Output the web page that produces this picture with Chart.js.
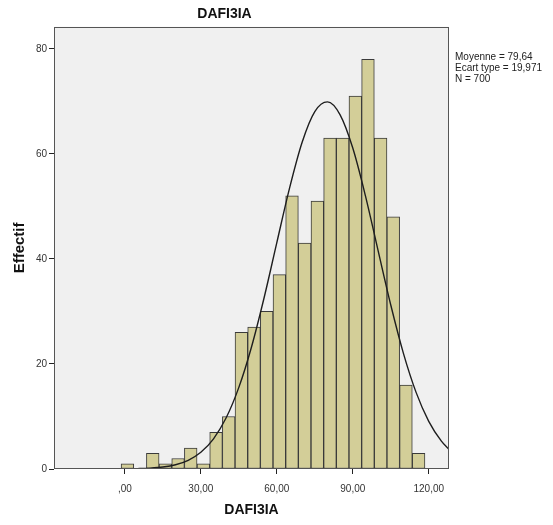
<!DOCTYPE html>
<html><head><meta charset="utf-8">
<script src="https://cdn.jsdelivr.net/npm/chart.js@4.4.1/dist/chart.umd.min.js"></script>
<style>
html,body{margin:0;padding:0;background:#fff;}
#wrap{position:relative;width:553px;height:525px;}
#stats{position:absolute;left:455px;top:51px;font:10px "Liberation Sans",Arial,sans-serif;color:#222;line-height:11px;white-space:nowrap;}
</style></head><body>
<div id="wrap"><canvas id="c" width="553" height="525"></canvas>
<div id="stats"></div></div>
<script>
// Histogram bins (bin centres, width 5) and counts
const binCenters = [1,6,11,16,21,26,31,36,41,46,51,56,61,66,71,76,81,86,91,96,101,106,111,116];
const counts     = [1,0,3,1,2,4,1,7,10,26,27,30,37,52,43,51,63,63,71,78,63,48,16,3];
// Fitted normal curve
const curveX = [-28,-25,-20,-15,-10,-5,0,5,10,15,20,25,30,35,40,45,50,55,60,65,70,75,80,85,90,95,100,105,110,115,120,125,128];
const curveY = [0,0,0,0,0,0,0.02,0.07,0.16,0.37,0.81,1.66,3.18,5.75,9.75,15.54,23.24,32.66,43.11,53.44,62.23,68.06,69.9,67.44,61.11,52.01,41.58,31.22,22.02,14.59,9.08,5.30,3.73];
// Axis ticks
const xTickValues = [0,30,60,90,120];
const xTickLabels = [',00','30,00','60,00','90,00','120,00'];
const yTickValues = [0,20,40,60,80];
// Titles / statistics
const chartTitle = 'DAFI3IA';
const xTitle = 'DAFI3IA';
const yTitle = 'Effectif';
const statsLines = ['Moyenne = 79,64','Ecart type = 19,971','N = 700'];

document.getElementById('stats').innerHTML = statsLines.map(s=>'<div>'+s+'</div>').join('');

const FONT = '"Liberation Sans", Arial, sans-serif';

const framePlugin = {
  id:'frame',
  beforeDraw(chart){
    const {ctx, chartArea:a} = chart;
    ctx.save();
    ctx.fillStyle = '#f0f0f0';
    ctx.fillRect(a.left, a.top, a.right-a.left, a.bottom-a.top);
    ctx.restore();
  },
  afterDraw(chart){
    const {ctx, chartArea:a} = chart;
    ctx.save();
    ctx.strokeStyle = '#555';
    ctx.lineWidth = 1;
    ctx.strokeRect(Math.round(a.left)+0.5, Math.round(a.top)+0.5, Math.round(a.right-a.left)-1, Math.round(a.bottom-a.top)-1);
    ctx.restore();
  }
};

new Chart(document.getElementById('c'), {
  type:'bar',
  data:{
    datasets:[
      {
        type:'line',
        order:0,
        data: curveX.map((x,i)=>({x:x, y:curveY[i]})),
        borderColor:'#1e1e1e',
        borderWidth:1.4,
        pointRadius:0,
        fill:false,
        cubicInterpolationMode:'monotone'
      },
      {
        type:'bar',
        order:1,
        data: binCenters.map((x,i)=>({x:x, y:counts[i]})),
        backgroundColor:'#d3ce98',
        borderColor:'#3a3a3a',
        borderWidth:1,
        borderSkipped:false,
        barPercentage:1,
        categoryPercentage:1
      }
    ]
  },
  options:{
    responsive:false,
    animation:false,
    layout:{padding:{left:0,right:104,top:0,bottom:0}},
    plugins:{
      legend:{display:false},
      tooltip:{enabled:false},
      title:{display:true,text:chartTitle,color:'#111',font:{family:FONT,size:14,weight:'bold'},padding:{top:6,bottom:4}}
    },
    scales:{
      x:{
        type:'linear', min:-28, max:128, offset:false,
        afterFit(s){ s.height = 56; },
        afterBuildTicks(s){ s.ticks = xTickValues.map(v=>({value:v})); },
        ticks:{autoSkip:false, maxRotation:0, padding:9, color:'#333', font:{family:FONT,size:10},
          callback(v){ const i = xTickValues.indexOf(v); return i>=0 ? xTickLabels[i] : ''; }},
        grid:{display:true, offset:false, drawOnChartArea:false, drawTicks:true, tickLength:5, color:'#222'},
        border:{display:false},
        title:{display:true,text:xTitle,color:'#111',font:{family:FONT,size:14,weight:'bold'},padding:{top:0,bottom:6}}
      },
      y:{
        type:'linear', min:0, max:84.2,
        afterFit(s){ s.width = 54; },
        afterBuildTicks(s){ s.ticks = yTickValues.map(v=>({value:v})); },
        ticks:{padding:2, color:'#333', font:{family:FONT,size:10}},
        grid:{display:true, drawOnChartArea:false, drawTicks:true, tickLength:5, color:'#222'},
        border:{display:false},
        title:{display:true,text:yTitle,color:'#111',font:{family:FONT,size:15,weight:'bold'},padding:{top:11,bottom:0}}
      }
    }
  },
  plugins:[framePlugin]
});
</script>
</body></html>
